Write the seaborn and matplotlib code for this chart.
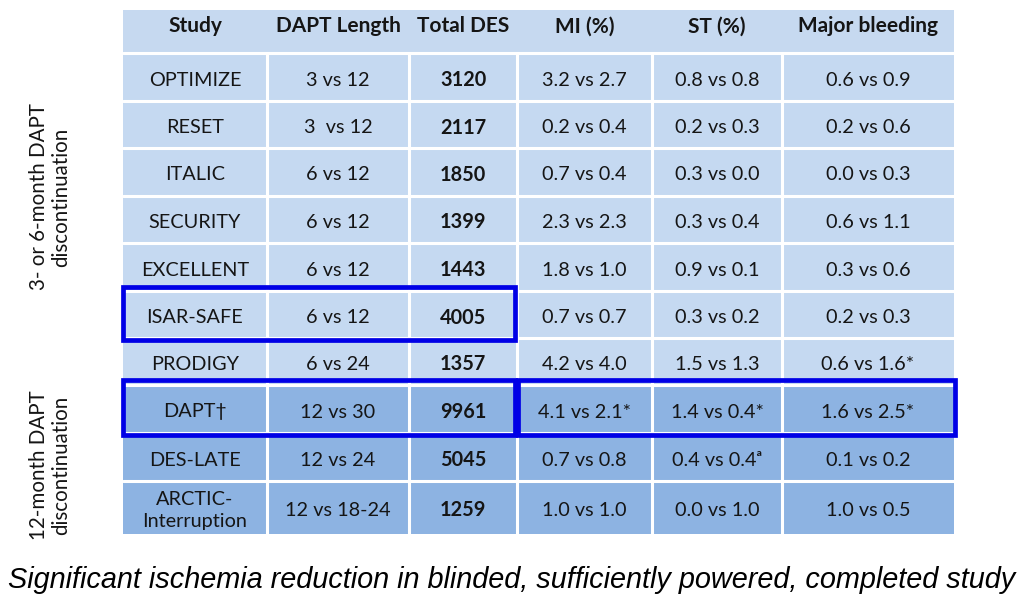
"""Recreate the DAPT duration trials table as a seaborn heatmap with text overlays."""

import matplotlib

matplotlib.use("Agg")
import matplotlib.pyplot as plt
import numpy as np
import seaborn as sns
from matplotlib.colors import ListedColormap
from matplotlib.patches import Rectangle

# --- table content -----------------------------------------------------------
headers = ["Study", "DAPT Length", "Total DES", "MI (%)", "ST (%)", "Major bleeding"]
studies = ["OPTIMIZE", "RESET", "ITALIC", "SECURITY", "EXCELLENT", "ISAR-SAFE",
           "PRODIGY", "DAPT\u2020", "DES-LATE", "ARCTIC-\nInterruption"]
dapt_length = ["3 vs 12", "3  vs 12", "6 vs 12", "6 vs 12", "6 vs 12", "6 vs 12",
               "6 vs 24", "12 vs 30", "12 vs 24", "12 vs 18-24"]
total_des = ["3120", "2117", "1850", "1399", "1443", "4005", "1357", "9961", "5045", "1259"]
mi = ["3.2 vs 2.7", "0.2 vs 0.4", "0.7 vs 0.4", "2.3 vs 2.3", "1.8 vs 1.0", "0.7 vs 0.7",
      "4.2 vs 4.0", "4.1 vs 2.1*", "0.7 vs 0.8", "1.0 vs 1.0"]
st = ["0.8 vs 0.8", "0.2 vs 0.3", "0.3 vs 0.0", "0.3 vs 0.4", "0.9 vs 0.1", "0.3 vs 0.2",
      "1.5 vs 1.3", "1.4 vs 0.4*", "0.4 vs 0.4\u1d43", "0.0 vs 1.0"]
bleeding = ["0.6 vs 0.9", "0.2 vs 0.6", "0.0 vs 0.3", "0.6 vs 1.1", "0.3 vs 0.6", "0.2 vs 0.3",
            "0.6 vs 1.6*", "1.6 vs 2.5*", "0.1 vs 0.2", "1.0 vs 0.5"]
# 1 = 3/6-month discontinuation group, 2 = 12-month group
group = [1, 1, 1, 1, 1, 1, 1, 2, 2, 2]
group_labels = ["3- or 6-month DAPT\ndiscontinuation", "12-month DAPT\ndiscontinuation"]
footnote = "Significant ischemia reduction in blinded, sufficiently powered, completed study"

# --- layout (pixels) ---------------------------------------------------------
W, H = 1024, 613
TABLE_X0, TABLE_Y0 = 123, 10
col_widths = [144, 142, 108, 135, 130, 172]
row_heights = [43, 48, 47, 48, 47, 48, 47, 47, 48, 48, 53]  # header first

HEADER_C = "#c6d9f0"
LIGHT_C = "#c5d9f1"
DARK_C = "#8db3e2"
BOX_C = "#0000e6"
TEXT_C = "#151515"

sns.set_theme(style="white")
plt.rcParams["font.family"] = ["Lato", "DejaVu Sans"]

fig = plt.figure(figsize=(W / 100, H / 100), dpi=100)
tw, th = sum(col_widths), sum(row_heights)
ax = fig.add_axes([TABLE_X0 / W, 1 - (TABLE_Y0 + th) / H, tw / W, th / H])

# one heatmap cell per pixel so columns/rows can have uneven sizes
codes = np.array([0] + group)
grid = np.repeat(codes, row_heights)[:, None].repeat(tw, axis=1)
sns.heatmap(grid, ax=ax, cmap=ListedColormap([HEADER_C, LIGHT_C, DARK_C]),
            vmin=-0.5, vmax=2.5, cbar=False, xticklabels=False, yticklabels=False,
            rasterized=True)
ax.set_axis_off()

x_edges = np.concatenate([[0], np.cumsum(col_widths)])
y_edges = np.concatenate([[0], np.cumsum(row_heights)])
x_mid = (x_edges[:-1] + x_edges[1:]) / 2
y_mid = (y_edges[:-1] + y_edges[1:]) / 2

# white cell separators (header band has none between columns)
for y in y_edges[1:-1]:
    ax.axhline(y, color="white", lw=2.2)
ax.vlines(x_edges[1:-1], y_edges[1], th, color="white", lw=2.2)

fs = 14.3
for x, h in zip(x_mid, headers):
    ax.text(x, y_mid[0] - 5, h, ha="center", va="center", fontsize=15.0,
            fontweight="bold", color=TEXT_C)

columns = [studies, dapt_length, total_des, mi, st, bleeding]
for ci, col in enumerate(columns):
    for ri, val in enumerate(col):
        weight = "bold" if ci == 2 else "normal"
        ax.text(x_mid[ci], y_mid[ri + 1] + 3, val, ha="center", va="center", fontsize=fs,
                fontweight=weight, color=TEXT_C, linespacing=1.3)

# highlight boxes
box_kw = dict(fill=False, edgecolor=BOX_C, lw=3.4, clip_on=False, zorder=5)
isar, dapt = studies.index("ISAR-SAFE"), studies.index("DAPT\u2020")
ax.add_patch(Rectangle((0, y_edges[isar + 1] - 4), x_edges[3] - 2,
                       row_heights[isar + 1] + 6, **box_kw))
ax.add_patch(Rectangle((0, y_edges[dapt + 1] - 5), x_edges[3] - 2,
                       row_heights[dapt + 1] + 7, **box_kw))
ax.add_patch(Rectangle((x_edges[3] + 1, y_edges[dapt + 1] - 5), tw - x_edges[3],
                       row_heights[dapt + 1] + 7, **box_kw))

# rotated group labels left of the table
fig.text(50 / W, 1 - 197 / H, group_labels[0], rotation=90, ha="center", va="center",
         fontsize=14.8, color=TEXT_C, linespacing=1.15)
fig.text(50 / W, 1 - 465 / H, group_labels[1], rotation=90, ha="center", va="center",
         fontsize=14.8, color=TEXT_C, linespacing=1.15)

fig.text(512 / W, 1 - 580 / H, footnote, ha="center", va="center", fontsize=20.8,
         style="italic", family="Liberation Sans", color="black")

fig.savefig("out.png", dpi=100)
plt.close(fig)
